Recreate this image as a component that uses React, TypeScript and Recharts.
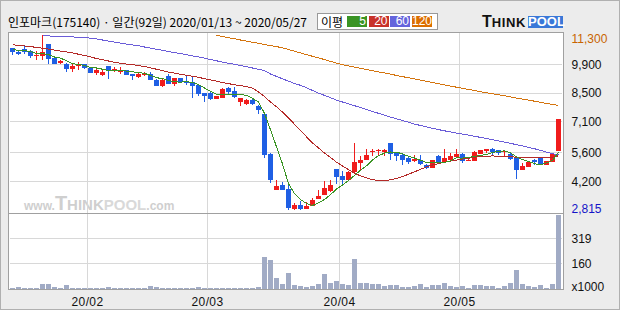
import React from 'react';
import { ComposedChart, Bar, Line, XAxis, YAxis, CartesianGrid } from 'recharts';

const stockName = '인포마크';
const stockCode = '175140';

const dates = [
  '2020-01-13','2020-01-14','2020-01-15','2020-01-16','2020-01-17','2020-01-20','2020-01-21','2020-01-22','2020-01-23','2020-01-28',
  '2020-01-29','2020-01-30','2020-01-31','2020-02-03','2020-02-04','2020-02-05','2020-02-06','2020-02-07','2020-02-10','2020-02-11',
  '2020-02-12','2020-02-13','2020-02-14','2020-02-17','2020-02-18','2020-02-19','2020-02-20','2020-02-21','2020-02-24','2020-02-25',
  '2020-02-26','2020-02-27','2020-02-28','2020-03-02','2020-03-03','2020-03-04','2020-03-05','2020-03-06','2020-03-09','2020-03-10',
  '2020-03-11','2020-03-12','2020-03-13','2020-03-16','2020-03-17','2020-03-18','2020-03-19','2020-03-20','2020-03-23','2020-03-24',
  '2020-03-25','2020-03-26','2020-03-27','2020-03-30','2020-03-31','2020-04-01','2020-04-02','2020-04-03','2020-04-06','2020-04-07',
  '2020-04-08','2020-04-09','2020-04-10','2020-04-13','2020-04-14','2020-04-16','2020-04-17','2020-04-20','2020-04-21','2020-04-22',
  '2020-04-23','2020-04-24','2020-04-27','2020-04-28','2020-04-29','2020-05-04','2020-05-06','2020-05-07','2020-05-08','2020-05-11',
  '2020-05-12','2020-05-13','2020-05-14','2020-05-15','2020-05-18','2020-05-19','2020-05-20','2020-05-21','2020-05-22','2020-05-25',
  '2020-05-26','2020-05-27',
];

const opens = [
  10700,10510,10650,10550,10290,10320,10870,10190,9960,9920,
  9690,9800,9900,9710,9480,9380,9820,9580,9510,9620,
  9440,9280,9380,9440,9150,8860,9320,8960,9220,9090,
  9040,8900,8510,8510,8230,8280,8750,8600,8080,7960,
  8150,7890,7500,5560,3780,4040,3850,2850,3070,2890,
  3040,3360,3560,3750,4820,4490,4300,4660,5110,5240,
  5640,5680,5660,6080,5630,5500,5340,5210,5270,5010,
  4850,5460,5140,5240,5400,5530,5210,5210,5530,5690,
  5790,5750,5630,5560,5340,4780,4910,5250,5340,4990,
  5170,5690,
];
const highs = [
  10700,10580,10770,10610,10550,11300,10900,10230,10120,9940,
  9960,10000,9920,9770,9670,9610,9830,9770,9770,9630,
  9450,9510,9540,9540,9180,9200,9420,9250,9250,9320,
  9320,8920,8520,8570,8380,8750,8800,8800,8280,8200,
  8280,7900,7520,5600,4300,4170,4040,3170,3260,3200,
  3390,3780,4230,4270,4830,4720,4720,6080,5430,5790,
  5790,5800,5800,6080,5650,5560,5400,5480,5480,5050,
  5270,5480,5790,5580,5790,5580,5370,5680,5730,5790,
  5850,5760,5690,5630,5340,5110,5170,5300,5340,5210,
  5560,7240,
];
const lows = [
  10350,10350,10420,10190,10120,10120,9930,9900,9930,9540,
  9540,9640,9670,9470,9380,9350,9190,9510,9440,9390,
  9150,9250,9320,9120,8830,8800,8930,8860,8990,8900,
  8280,8350,8080,8150,8200,8280,8440,8280,7880,7930,
  7900,7470,5370,4140,3780,3810,2815,2830,2840,2880,
  3030,3340,3560,3700,4100,4070,4300,4590,4740,5240,
  5430,5500,5450,5240,5210,5000,5060,5140,5000,4820,
  4850,5140,5140,5200,5370,5110,5210,5210,5530,5570,
  5430,5500,5400,5240,4330,4780,4910,4990,4990,4990,
  5140,5690,
];
const closes = [
  10480,10420,10510,10320,10370,10480,10170,9930,10060,9690,
  9830,9930,9740,9480,9620,9540,9580,9690,9640,9400,
  9350,9440,9480,9150,8830,9120,8960,9220,9030,8990,
  8860,8470,8380,8220,8350,8690,8570,8310,8250,8150,
  7960,7700,5500,4300,4010,3810,2910,3070,2880,3040,
  3330,3520,3910,4040,4430,4270,4660,5140,5270,5500,
  5690,5740,5720,5560,5460,5270,5170,5290,5050,4850,
  5240,5140,5370,5460,5560,5210,5270,5630,5730,5790,
  5660,5590,5690,5300,4780,4980,5170,5140,5050,5210,
  5560,7240,
];
// volume in thousands of shares
const volumes = [
  8,15,8,8,8,34,34,15,8,28,
  8,8,8,8,8,8,15,8,8,8,
  8,8,8,21,15,8,8,8,8,8,
  8,15,8,8,8,8,8,8,8,8,
  8,15,200,181,72,34,98,28,21,15,
  21,34,92,40,53,34,28,187,40,40,
  34,34,21,28,28,15,15,21,34,15,
  28,28,40,21,15,21,8,28,28,21,
  21,8,21,40,117,34,21,15,28,8,
  34,466,
];
const ma5 = [
  10600,10590,10570,10520,10420,10420,10370,10254,10202,10066,
  9936,9888,9850,9734,9720,9662,9592,9582,9614,9570,
  9532,9504,9462,9364,9250,9204,9108,9056,9032,9064,
  9012,8914,8746,8584,8456,8422,8442,8428,8434,8394,
  8248,8074,7512,6722,5894,5064,4106,3620,3336,3142,
  3046,3168,3336,3568,3846,4034,4262,4508,4754,4968,
  5252,5468,5584,5642,5634,5550,5436,5350,5248,5126,
  5120,5114,5130,5212,5354,5348,5374,5426,5480,5526,
  5616,5680,5692,5606,5404,5268,5184,5074,5024,5110,
  5226,5640,
];
const ma20 = [
  10850,10820,10790,10760,10720,10680,10640,10590,10540,10500,
  10450,10390,10330,10260,10180,10120,10060,10000,9950,9910,
  9880,9840,9790,9730,9660,9590,9520,9470,9410,9370,
  9320,9270,9200,9140,9080,9020,8960,8910,8860,8820,
  8740,8560,8330,8070,7840,7580,7290,6990,6690,6380,
  6080,5840,5590,5370,5150,4960,4790,4610,4480,4380,
  4300,4260,4260,4290,4360,4450,4560,4680,4800,4920,
  5010,5080,5140,5200,5250,5300,5340,5390,5420,5440,
  5450,5440,5430,5410,5390,5370,5360,5360,5370,5370,
  5380,5460,
];
const ma60 = [
  null,null,null,null,null,11290,11280,11260,11250,11240,
  11230,11210,11200,11170,11130,11080,11030,10980,10930,10880,
  10840,10800,10740,10690,10630,10580,10520,10470,10420,10370,
  10310,10260,10200,10130,10070,10010,9950,9900,9840,9780,
  9720,9660,9590,9430,9310,9200,9080,8970,8880,8760,
  8630,8500,8390,8280,8160,8070,7980,7890,7800,7700,
  7610,7520,7430,7340,7250,7170,7090,7000,6930,6860,
  6790,6730,6670,6620,6560,6510,6460,6410,6350,6300,
  6240,6180,6120,6060,6000,5940,5870,5800,5720,5640,
  5560,5510,
];
const ma120 = [
  null,null,null,null,null,null,null,null,null,null,
  null,null,null,null,null,null,null,null,null,null,
  null,null,null,null,null,null,null,null,null,null,
  null,null,null,null,11300,11250,11190,11140,11080,11030,
  10970,10920,10860,10810,10760,10700,10620,10540,10450,10370,
  10290,10210,10130,10040,9960,9880,9820,9760,9710,9650,
  9590,9530,9480,9420,9360,9300,9250,9190,9130,9070,
  9020,8960,8900,8840,8790,8730,8680,8630,8570,8520,
  8470,8420,8370,8320,8260,8210,8160,8110,8060,8000,
  7950,7900,
];

const priceGrid = [4200, 5600, 7100, 8500, 9900];
const volumeGrid = [160, 319];
const maPeriods = ['5', '20', '60', '120'];

// ---- derived ----
const data = dates.map((d, i) => ({
  idx: i,
  date: d,
  range: [lows[i], highs[i]],
  open: opens[i], high: highs[i], low: lows[i], close: closes[i],
  vol: volumes[i],
  ma5: ma5[i], ma20: ma20[i], ma60: ma60[i], ma120: ma120[i],
}));
const monthStarts: number[] = [];
dates.forEach((d, i) => { if (i > 0 && d.slice(5, 7) !== dates[i - 1].slice(5, 7)) monthStarts.push(i); });
const monthTickPos = monthStarts.map((i) => i - 0.5);
const monthLabel = (v: number) => {
  const d = dates[Math.round(v + 0.5)];
  return d ? `${d.slice(2, 4)}/${d.slice(5, 7)}` : '';
};
const priceMax = Math.max(...highs);
const priceMin = Math.min(...lows);
const priceTicks = [priceMin, ...priceGrid, priceMax];
const xDomain = [-0.5, dates.length - 0.5];

const UP = '#f01c1c';
const DOWN = '#1f5fe4';
const C5 = '#3a9424';
const C20 = '#b42a28';
const C60 = '#6a5cd8';
const C120 = '#d4740e';
const VOL = '#a1abc5';
const GRID = '#d8d8d8';
const FRAME = '#a0a0a0';
const FONT = '"Liberation Sans", Arial, sans-serif';
const KFONT = '"Noto Sans CJK KR", "Liberation Sans", sans-serif';

const W = 620;
const PLOT_L = 8.5;
const AXIS_W = 59.5;

function Candle(props: any) {
  const { x, y, width, height, payload } = props;
  if (payload == null || height == null) return null;
  const { open, close, high, low } = payload;
  const cx = x + width / 2;
  const span = high - low;
  const py = (v: number) => (span === 0 ? y : y + ((high - v) / span) * height);
  const color = close >= open ? UP : DOWN;
  const top = py(Math.max(open, close));
  const bot = py(Math.min(open, close));
  const wx = Math.floor(cx) + 0.5;
  return (
    <g>
      <line x1={wx} x2={wx} y1={y} y2={y + height} stroke={color} strokeWidth={1} shapeRendering="crispEdges" />
      <rect x={Math.round(cx - 2.5)} y={top} width={5} height={Math.max(bot - top, 1)} fill={color} shapeRendering="crispEdges" />
    </g>
  );
}

function VolBar(props: any) {
  const { x, y, width, height } = props;
  if (height == null || height <= 0) return null;
  const cx = x + width / 2;
  return <rect x={Math.round(cx - 2.5)} y={y} width={5} height={height} fill={VOL} shapeRendering="crispEdges" />;
}

function PriceTick(props: any) {
  const { x, y, payload } = props;
  const v = payload.value;
  const cy = Math.min(Math.max(y, 37.3), 207.3);
  const fill = v === priceMax ? '#c86400' : v === priceMin ? '#1414c8' : '#111';
  return (
    <text x={x} y={cy} dy="0.36em" textAnchor="start" fontSize={12} fontFamily={FONT} fill={fill}>
      {v.toLocaleString('en-US')}
    </text>
  );
}

function VolTick(props: any) {
  const { x, y, payload } = props;
  const v = payload.value;
  const cy = Math.min(y, 285.7);
  return (
    <text x={x} y={cy} dy="0.36em" textAnchor="start" fontSize={12} fontFamily={FONT} fill="#111">
      {v === 0 ? 'x1000' : String(v)}
    </text>
  );
}

function DateTick(props: any) {
  const { x, y, payload } = props;
  return (
    <text x={x} y={y} dy="0.71em" textAnchor="middle" fontSize={12} fontFamily={FONT} fill="#111" letterSpacing={0.4}>
      {monthLabel(payload.value)}
    </text>
  );
}

const abs = (l: number, t: number, w: number, h: number): React.CSSProperties => ({
  position: 'absolute', left: l, top: t, width: w, height: h, boxSizing: 'border-box',
});

export default function App() {
  const legendColors = [C5, '#c8322a', '#6464dc', '#dc6e00'];
  const legendX = [346, 367.5, 389, 411];
  return (
    <div style={{ position: 'absolute', left: 0, top: 0, width: W, height: 310, background: '#ececec', border: '1px solid #b0b0b0', boxSizing: 'border-box', overflow: 'hidden' }}>
      <style>{'.recharts-line path { shape-rendering: crispEdges; }'}</style>
      {/* title */}
      <div style={{ ...abs(7, 13, 320, 16), fontFamily: KFONT, fontSize: 12, lineHeight: '16px', color: '#000', whiteSpace: 'nowrap' }}>
        {`${stockName}(${stockCode}) · 일간(${dates.length}일) ${dates[0].replace(/-/g, '/')} ~ ${dates[dates.length - 1].replace(/-/g, '/')}`}
      </div>
      {/* MA legend */}
      <div style={{ ...abs(316, 12, 121, 17), background: '#fff', border: '1px solid #999' }} />
      <div style={{ ...abs(320, 12, 24, 17), fontFamily: KFONT, fontSize: 12, lineHeight: '17px', color: '#000' }}>이평</div>
      {maPeriods.map((p, k) => (
        <div key={p} style={{ ...abs(legendX[k], 15, 20, 11), background: legendColors[k], color: '#fff', fontFamily: FONT, fontSize: 12, lineHeight: '11px', textAlign: 'right', paddingRight: 1 }}>{p}</div>
      ))}
      {/* logo */}
      <div style={{ ...abs(481, 13, 46, 16), fontFamily: FONT, fontWeight: 'bold', color: '#111', lineHeight: '16px', whiteSpace: 'nowrap' }}>
        <span style={{ fontSize: 16 }}>T</span><span style={{ fontSize: 13, letterSpacing: 0.6 }}>HINK</span>
      </div>
      <div style={{ ...abs(527, 15, 35, 12), background: '#3a78d8', color: '#fff', fontFamily: FONT, fontWeight: 'bold', fontSize: 13, lineHeight: '12px', textAlign: 'center' }}>POOL</div>

      {/* panel frames */}
      <div style={{ ...abs(7, 31, 556, 182), background: '#fff', border: `1px solid ${FRAME}` }} />
      <div style={{ ...abs(7, 212, 556, 77), background: '#fff', border: `1px solid ${FRAME}` }} />
      {/* watermark */}
      <div style={{ ...abs(23, 191, 160, 22), fontFamily: FONT, color: '#cfcfcf', whiteSpace: 'nowrap', lineHeight: '22px' }}>
        <span style={{ fontSize: 12, fontWeight: 'bold' }}>www.</span>
        <span style={{ fontSize: 20, fontWeight: 'bold' }}>T</span>
        <span style={{ fontSize: 15, fontWeight: 'bold' }}>HINK</span>
        <span style={{ fontSize: 15, fontWeight: 'bold', color: '#d9d9d9' }}>POOL</span>
        <span style={{ fontSize: 12, fontWeight: 'bold' }}>.com</span>
      </div>

      {/* price chart */}
      <div style={{ position: 'absolute', left: 0, top: 0 }}>
        <ComposedChart width={W} height={222} data={data} margin={{ top: 32, right: 0, bottom: 10, left: PLOT_L }}>
          <CartesianGrid stroke={GRID} strokeWidth={1} horizontalValues={priceGrid} verticalValues={monthTickPos} shapeRendering="crispEdges" />
          <XAxis type="number" dataKey="idx" domain={xDomain} ticks={monthTickPos} hide allowDataOverflow />
          <YAxis orientation="right" type="number" domain={[2680, 11420]} ticks={priceTicks} interval={0} width={AXIS_W}
            axisLine={false} tickLine={false} tickSize={0} tickMargin={10} tick={<PriceTick />} allowDataOverflow />
          <Line dataKey="ma120" stroke={C120} strokeWidth={1} dot={false} activeDot={false} isAnimationActive={false} />
          <Line dataKey="ma60" stroke={C60} strokeWidth={1} dot={false} activeDot={false} isAnimationActive={false} />
          <Line dataKey="ma20" stroke={C20} strokeWidth={1} dot={false} activeDot={false} isAnimationActive={false} />
          <Line dataKey="ma5" stroke={C5} strokeWidth={1} dot={false} activeDot={false} isAnimationActive={false} />
          <Bar dataKey="range" barSize={6} shape={<Candle />} isAnimationActive={false} />
        </ComposedChart>
      </div>

      {/* volume chart */}
      <div style={{ position: 'absolute', left: 0, top: 0 }}>
        <ComposedChart width={W} height={310} data={data} margin={{ top: 213, right: 0, bottom: 0, left: PLOT_L }}>
          <CartesianGrid stroke={GRID} strokeWidth={1} horizontalValues={volumeGrid} verticalValues={monthTickPos} shapeRendering="crispEdges" />
          <XAxis type="number" dataKey="idx" domain={xDomain} ticks={monthTickPos} interval={0} height={22}
            axisLine={false} tickLine={false} tickSize={0} tickMargin={8} tick={<DateTick />} allowDataOverflow />
          <YAxis orientation="right" type="number" domain={[0, 473]} ticks={[0, ...volumeGrid]} interval={0} width={AXIS_W}
            axisLine={false} tickLine={false} tickSize={0} tickMargin={10} tick={<VolTick />} allowDataOverflow />
          <Bar dataKey="vol" barSize={6} shape={<VolBar />} isAnimationActive={false} />
        </ComposedChart>
      </div>
    </div>
  );
}
